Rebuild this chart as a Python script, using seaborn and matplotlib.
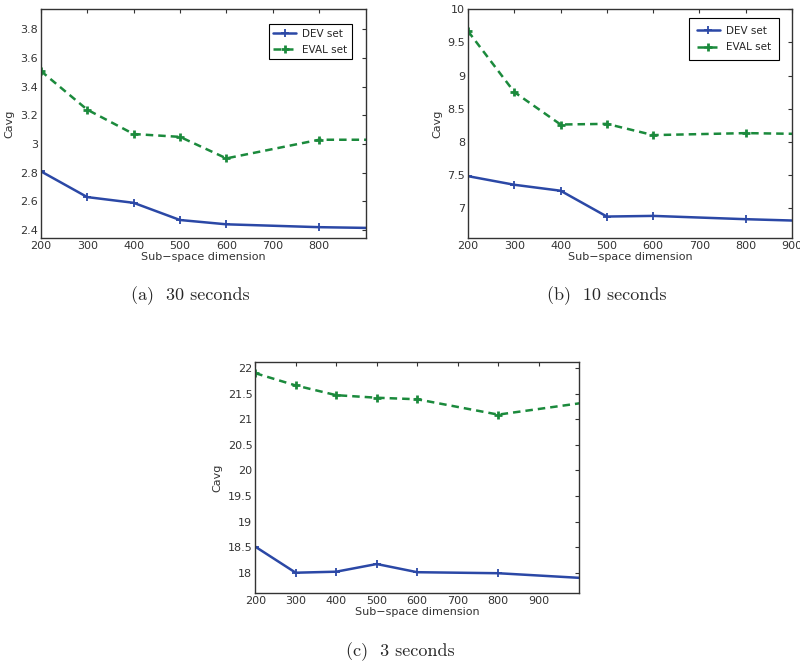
import numpy as np
import pandas as pd
import matplotlib
matplotlib.use('Agg')
import matplotlib.pyplot as plt
import seaborn as sns
from matplotlib.ticker import FormatStrFormatter

# Datos
dims = [200, 300, 400, 500, 600, 800, 1000]

dev_30s = [2.81, 2.63, 2.59, 2.47, 2.44, 2.42, 2.41]
eval_30s = [3.51, 3.24, 3.07, 3.05, 2.90, 3.03, 3.03]

dev_10s = [7.48, 7.35, 7.26, 6.87, 6.88, 6.83, 6.79]
eval_10s = [9.67, 8.75, 8.26, 8.27, 8.10, 8.13, 8.11]

dev_3s = [18.51, 18.00, 18.02, 18.17, 18.01, 17.99, 17.90]
eval_3s = [21.90, 21.66, 21.47, 21.42, 21.39, 21.09, 21.31]

series_labels = ['DEV set', 'EVAL set']
captions = ['(a)  30 seconds', '(b)  10 seconds', '(c)  3 seconds']

BLUE = '#2b48a6'
GREEN = '#1b8a3c'

sns.set_style('white')
plt.rcParams['font.family'] = ['DejaVu Sans']
plt.rcParams['xtick.direction'] = 'in'
plt.rcParams['ytick.direction'] = 'in'

fig = plt.figure(figsize=(8, 6.65), dpi=100)

panels = [
    dict(dev=dev_30s, ev=eval_30s, pos=[0.051, 0.642, 0.406, 0.344],
         ylim=(2.344, 3.94), yticks=np.arange(2.4, 3.81, 0.2),
         xlim=(200, 900), xticks=range(200, 801, 100),
         legend=dict(anchor=(0.957, 0.934), pad=0.4)),
    dict(dev=dev_10s, ev=eval_10s, pos=[0.585, 0.642, 0.405, 0.344],
         ylim=(6.545, 10.0), yticks=np.arange(7, 10.01, 0.5),
         xlim=(200, 900), xticks=range(200, 901, 100),
         legend=dict(anchor=(0.96, 0.961), pad=0.75)),
    dict(dev=dev_3s, ev=eval_3s, pos=[0.319, 0.108, 0.405, 0.347],
         ylim=(17.6, 22.11), yticks=np.arange(18, 22.01, 0.5),
         xlim=(200, 1000), xticks=range(200, 901, 100), legend=None),
]

for p in panels:
    ax = fig.add_axes(p['pos'])
    df = pd.DataFrame({
        'dim': dims * 2,
        'Cavg': p['dev'] + p['ev'],
        'set': [series_labels[0]] * len(dims) + [series_labels[1]] * len(dims),
    })
    # el último punto queda en el borde, sin marcador visible
    mk = list(range(len(dims) - 1))
    sns.lineplot(data=df[df['set'] == series_labels[0]], x='dim', y='Cavg',
                 ax=ax, color=BLUE, linewidth=1.8, marker='+', markersize=6,
                 markeredgewidth=1.3, markeredgecolor=BLUE, markevery=mk,
                 label=series_labels[0], legend=False)
    sns.lineplot(data=df[df['set'] == series_labels[1]], x='dim', y='Cavg',
                 ax=ax, color=GREEN, linewidth=1.8, linestyle=(0, (3, 2)),
                 marker='+', markersize=6, markeredgewidth=2,
                 markeredgecolor=GREEN, markevery=mk,
                 label=series_labels[1], legend=False)
    ax.set_xlim(*p['xlim'])
    ax.set_ylim(*p['ylim'])
    ax.set_xticks(list(p['xticks']))
    ax.set_yticks(p['yticks'])
    ax.yaxis.set_major_formatter(FormatStrFormatter('%g'))
    ax.tick_params(labelsize=8, length=3, width=0.8, colors='#333333',
                   top=True, right=True, pad=2)
    for s in ax.spines.values():
        s.set_color('#333333')
        s.set_linewidth(1.0)
    ax.set_xlabel('Sub\u2212space dimension', fontsize=8, labelpad=1, color='#333333')
    ax.set_ylabel('Cavg', fontsize=8, labelpad=4, color='#333333')
    if p['legend']:
        leg = ax.legend(loc='upper right', fontsize=7.5, fancybox=False,
                        edgecolor='black', framealpha=1, handlelength=2.2,
                        handletextpad=0.6, borderpad=p['legend']['pad'],
                        labelspacing=0.6, borderaxespad=0,
                        bbox_to_anchor=p['legend']['anchor'])
        leg.get_frame().set_linewidth(0.8)
        for h in leg.legend_handles:
            h.set_markevery([1])

fig.text(190 / 800, 1 - 296 / 665, captions[0], family='cmr10', fontsize=13,
         ha='center', va='center')
fig.text(607 / 800, 1 - 296 / 665, captions[1], family='cmr10', fontsize=13,
         ha='center', va='center')
fig.text(400 / 800, 1 - 652 / 665, captions[2], family='cmr10', fontsize=13,
         ha='center', va='center')

fig.savefig('out.png', dpi=100)
